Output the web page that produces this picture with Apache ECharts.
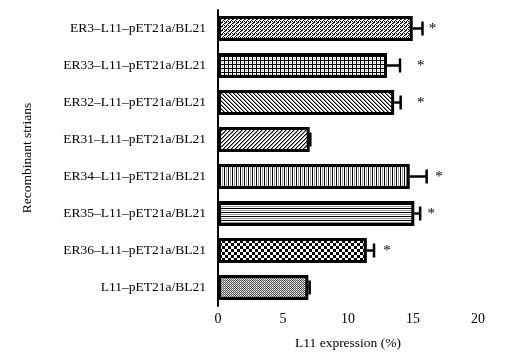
<!DOCTYPE html>
<html>
<head>
<meta charset="utf-8">
<script src="https://cdn.jsdelivr.net/npm/echarts@6/dist/echarts.min.js"></script>
<style>
  html, body { margin: 0; padding: 0; background: #fff; }
  #chart { width: 519px; height: 364px; }
</style>
</head>
<body>
<div id="chart"></div>
<script>
// 数据（自下而上）
var strains = ['L11–pET21a/BL21', 'ER36–L11–pET21a/BL21', 'ER35–L11–pET21a/BL21', 'ER34–L11–pET21a/BL21',
	'ER31–L11–pET21a/BL21', 'ER32–L11–pET21a/BL21', 'ER33–L11–pET21a/BL21', 'ER3–L11–pET21a/BL21'];
var expression = [6.95, 11.45, 15.1, 14.75, 7.05, 13.55, 13.0, 14.98];
var errors = [0.1, 0.55, 0.45, 1.3, 0.05, 0.5, 1.0, 0.75];
var starPos = [null, 13.0, 16.4, 17.0, null, 15.6, 15.6, 16.5];
var xTicks = [0, 5, 10, 15, 20];

// 填充图案
function makePattern(size, draw) {
	var c = document.createElement('canvas');
	c.width = size; c.height = size;
	var ctx = c.getContext('2d');
	ctx.fillStyle = '#fff';
	ctx.fillRect(0, 0, size, size);
	ctx.fillStyle = '#000';
	draw(ctx, size);
	return { image: c, repeat: 'repeat' };
}

var patterns = [
	// 细点
	makePattern(2, function (ctx) {
		ctx.fillStyle = '#555';
		ctx.fillRect(0, 0, 1, 1);
		ctx.fillRect(1, 1, 1, 1);
		ctx.fillStyle = '#bbb';
		ctx.fillRect(1, 0, 1, 1);
	}),
	// 棋盘
	makePattern(6, function (ctx) {
		ctx.fillRect(0, 0, 3, 3);
		ctx.fillRect(3, 3, 3, 3);
	}),
	// 横线
	makePattern(4, function (ctx) {
		ctx.fillRect(0, 0, 4, 1);
		ctx.fillStyle = '#999';
		ctx.fillRect(0, 2, 4, 1);
	}),
	// 竖线
	makePattern(4, function (ctx) {
		ctx.fillRect(0, 0, 1, 4);
		ctx.fillStyle = '#999';
		ctx.fillRect(2, 0, 1, 4);
	}),
	// 斜线 /
	makePattern(4, function (ctx) {
		for (var i = 0; i < 4; i++) ctx.fillRect(3 - i, i, 1, 1);
		ctx.fillStyle = '#888';
		for (var j = 0; j < 4; j++) ctx.fillRect((4 - j) % 4, j, 1, 1);
	}),
	// 斜线 \
	makePattern(4, function (ctx) {
		for (var i = 0; i < 4; i++) ctx.fillRect(i, i, 1, 1);
		ctx.fillStyle = '#888';
		for (var j = 0; j < 4; j++) ctx.fillRect((j + 1) % 4, j, 1, 1);
	}),
	// 网格
	makePattern(4, function (ctx) {
		ctx.fillRect(0, 0, 4, 1);
		ctx.fillRect(0, 0, 1, 4);
		ctx.fillStyle = '#aaa';
		ctx.fillRect(2, 2, 1, 1);
	}),
	// 斜砖
	makePattern(4, function (ctx) {
		for (var i = 0; i < 4; i++) ctx.fillRect(3 - i, i, 1, 1);
		ctx.fillRect(2, 2, 1, 1);
		ctx.fillRect(0, 1, 1, 1);
		ctx.fillStyle = '#777';
		ctx.fillRect(1, 3, 1, 1);
	})
];

var fontFam = '"Liberation Serif", "DejaVu Serif", serif';

var barData = expression.map(function (v, i) {
	return { value: v, itemStyle: { color: patterns[i] } };
});

var errData = expression.map(function (v, i) {
	return [v, i, errors[i], starPos[i] == null ? -1 : starPos[i]];
});

var chart = echarts.init(document.getElementById('chart'));

var option = {
	animation: false,
	grid: { left: 218, right: 41, top: 10, bottom: 58 },
	xAxis: {
		type: 'value',
		min: 0, max: 20, interval: 5,
		name: 'L11 expression (%)',
		nameLocation: 'middle',
		nameGap: 30,
		nameTextStyle: { color: '#000', fontFamily: fontFam, fontSize: 13.5 },
		axisLine: { lineStyle: { color: '#000', width: 2 } },
		axisTick: { length: 4, lineStyle: { color: '#000', width: 2 } },
		axisLabel: { color: '#000', fontFamily: fontFam, fontSize: 14, margin: 6 },
		splitLine: { show: false }
	},
	yAxis: {
		type: 'category',
		data: strains,
		name: 'Recombinant strians',
		nameLocation: 'middle',
		nameGap: 184,
		nameTextStyle: { color: '#000', fontFamily: fontFam, fontSize: 13.5 },
		axisLine: { lineStyle: { color: '#000', width: 2 } },
		axisTick: { alignWithLabel: true, length: 5, lineStyle: { color: '#000', width: 2 } },
		axisLabel: { color: '#000', fontFamily: fontFam, fontSize: 13.5, margin: 12 }
	},
	series: [
		{
			type: 'bar',
			data: barData,
			barWidth: 25,
			itemStyle: { borderColor: '#000', borderWidth: 3 }
		},
		{
			type: 'custom',
			data: errData,
			encode: { x: 0, y: 1 },
			z: 5,
			renderItem: function (params, api) {
				var v = api.value(0), idx = api.value(1), e = api.value(2), s = api.value(3);
				var p0 = api.coord([v, idx]);
				var p1 = api.coord([v + e, idx]);
				var children = [
					{ type: 'line', shape: { x1: p0[0], y1: p0[1], x2: p1[0], y2: p1[1] }, style: { stroke: '#000', lineWidth: 2.5 } },
					{ type: 'line', shape: { x1: p1[0], y1: p1[1] - 7, x2: p1[0], y2: p1[1] + 7 }, style: { stroke: '#000', lineWidth: 2.5 } }
				];
				if (s > 0) {
					var ps = api.coord([s, idx]);
					children.push({
						type: 'text',
						style: { text: '*', x: ps[0], y: ps[1] + 1, fill: '#000', font: '15px ' + fontFam, align: 'center', verticalAlign: 'middle' }
					});
				}
				return { type: 'group', children: children };
			}
		}
	]
};

chart.setOption(option);
</script>
</body>
</html>
